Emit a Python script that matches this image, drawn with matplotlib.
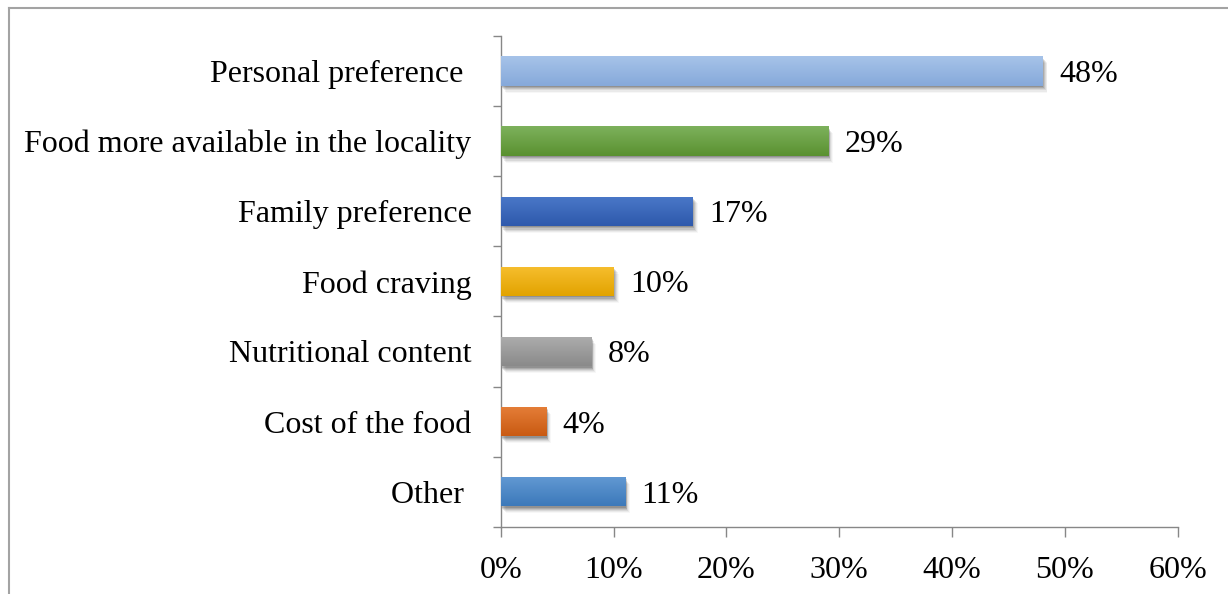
import numpy as np
import matplotlib
matplotlib.use("Agg")
import matplotlib.pyplot as plt
import matplotlib.patheffects as pe
from matplotlib.colors import LinearSegmentedColormap
from matplotlib.lines import Line2D

# Reasons for food choice (share of respondents, %)
categories = [
    "Personal preference ",
    "Food more available in the locality",
    "Family preference",
    "Food craving",
    "Nutritional content",
    "Cost of the food",
    "Other ",
]
values = [48, 29, 17, 10, 8, 4, 11]

# Bar gradient colours, top edge -> bottom edge
top_colors = ["#A6C3E9", "#7DB15C", "#4A78C8", "#F6BE2E", "#ADADAD", "#E57E38", "#6299D3"]
bottom_colors = ["#86A9DA", "#5A9130", "#2E59AC", "#E2A300", "#8A8A8A", "#C95A12", "#3C79BA"]

xtick_values = [0, 10, 20, 30, 40, 50, 60]
xtick_labels = ["0%", "10%", "20%", "30%", "40%", "50%", "60%"]

plt.rcParams["font.family"] = ["Liberation Serif", "DejaVu Serif"]
plt.rcParams["font.size"] = 23

W, H = 1228, 594
fig = plt.figure(figsize=(W / 100, H / 100), dpi=100)
fig.patch.set_facecolor("white")
ax = fig.add_axes([500.7 / W, 1 - 526.7 / H, (1177.8 - 500.7) / W, (526.7 - 36) / H])

positions = np.arange(len(categories))
bar_h = 0.42

# Soft drop shadow built from stacked, slightly offset translucent copies
shadow = [
    pe.SimplePatchShadow(offset=(dx, -dy), shadow_rgbFace="black", alpha=a)
    for dx, dy, a in [(0.6, 1.0, 0.14), (1.2, 1.8, 0.12), (1.8, 2.6, 0.10),
                      (2.4, 3.4, 0.07), (3.0, 4.2, 0.05), (3.6, 5.0, 0.03)]
] + [pe.Normal()]

bars = ax.barh(positions, values, height=bar_h, color=bottom_colors, edgecolor="none", zorder=2)
for bar, y, v, c0, c1 in zip(bars, positions, values, top_colors, bottom_colors):
    bar.set_path_effects(shadow)
    cmap = LinearSegmentedColormap.from_list("grad", [c0, c1])
    grad = np.linspace(0, 1, 64).reshape(-1, 1)
    im = ax.imshow(grad, cmap=cmap, aspect="auto", origin="upper",
                   extent=(0, v, y + bar_h / 2, y - bar_h / 2), zorder=3,
                   interpolation="bilinear")
    im.set_clip_path(bar)
    ax.annotate(f"{v}%", xy=(v, y), xytext=(12, 0), textcoords="offset points",
                va="center_baseline", ha="left", color="black")

ax.set_xlim(0, 60)
ax.set_ylim(len(categories) - 0.5, -0.5)

ax.set_xticks(xtick_values)
ax.set_xticklabels(xtick_labels)
ax.set_yticks(positions)
ax.set_yticklabels(categories, va="center_baseline")
ax.set_yticks(np.arange(-0.5, len(categories), 1.0), minor=True)

spine_color = "#878787"
for side in ["top", "right"]:
    ax.spines[side].set_visible(False)
for side in ["left", "bottom"]:
    ax.spines[side].set_color(spine_color)
    ax.spines[side].set_linewidth(1.0)

ax.tick_params(axis="y", which="major", length=0, pad=21)
ax.tick_params(axis="y", which="minor", length=6, width=1.0, color=spine_color, direction="out")
ax.tick_params(axis="x", which="major", length=7, width=1.0, color=spine_color, direction="out", pad=14)
ax.set_facecolor("white")

# Outer chart frame (top and left edges)
border = "#A3A3A3"
fig.add_artist(Line2D([8.5 / W, 1.0], [1 - 7.5 / H, 1 - 7.5 / H], transform=fig.transFigure,
                      color=border, linewidth=1.5))
fig.add_artist(Line2D([8.5 / W, 8.5 / W], [0.0, 1 - 7.5 / H], transform=fig.transFigure,
                      color=border, linewidth=1.5))

fig.savefig("out.png", dpi=100, facecolor="white")
